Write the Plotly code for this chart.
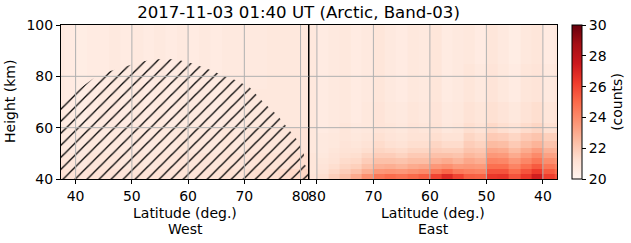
import numpy as np
import plotly.graph_objects as go
import plotly.colors as pc

title_text = "2017-11-03 01:40 UT (Arctic, Band-03)"
lat_ticks = [40, 50, 60, 70, 80]
height_ticks = [40, 60, 80, 100]
cbar_ticks = [20, 22, 24, 26, 28, 30]

# column edges (latitude, deg) for both halves, increasing
lat_edges = list(range(36, 84, 2))  # 36..82 -> 23 columns (centres 37..81)
west_height_edges = [40, 44, 50, 60, 75, 100]
east_height_edges = [40, 42, 44, 46, 48, 50, 52, 55, 58, 62, 70, 85, 100]

# West half: one list per latitude column (37..81), values bottom -> top
west_counts = [
    [21.2, 21.0, 20.8, 20.7, 20.7],
    [21.1, 20.9, 20.7, 20.6, 20.6],
    [21.0, 20.8, 20.7, 20.5, 20.5],
    [21.1, 20.9, 20.8, 20.6, 20.6],
    [21.0, 20.9, 20.7, 20.7, 20.6],
    [21.1, 20.9, 20.8, 20.7, 20.7],
    [21.0, 20.8, 20.7, 20.6, 20.6],
    [21.1, 20.9, 20.8, 20.7, 20.7],
    [21.0, 20.8, 20.7, 20.6, 20.6],
    [21.1, 20.9, 20.8, 20.7, 20.7],
    [21.0, 20.9, 20.8, 20.6, 20.6],
    [21.1, 21.0, 20.9, 20.7, 20.7],
    [21.0, 20.9, 20.8, 20.7, 20.6],
    [21.1, 21.0, 20.8, 20.7, 20.7],
    [21.1, 20.9, 20.8, 20.6, 20.6],
    [21.2, 21.0, 20.9, 20.7, 20.7],
    [21.1, 21.0, 20.8, 20.7, 20.7],
    [21.2, 21.0, 20.9, 20.8, 20.7],
    [21.3, 21.1, 20.9, 20.8, 20.7],
    [21.3, 21.1, 20.9, 20.8, 20.8],
    [21.4, 21.1, 20.9, 20.8, 20.8],
    [21.5, 21.2, 21.0, 20.8, 20.8],
    [21.6, 21.3, 21.0, 20.8, 20.8],
]

# East half: one list per latitude column (37..81), values bottom -> top
east_counts = [
    [25.6, 24.9, 24.3, 23.7, 23.2, 22.7, 22.3, 21.8, 21.3, 21.1, 20.9, 20.8],  # 37
    [26.2, 25.4, 24.6, 23.9, 23.3, 22.8, 22.2, 21.8, 21.2, 20.9, 20.7, 20.6],  # 39
    [27.3, 26.3, 25.4, 24.6, 24.0, 23.4, 22.7, 22.2, 21.6, 21.3, 21.0, 20.9],  # 41
    [26.4, 25.6, 24.8, 24.1, 23.5, 23.0, 22.4, 22.0, 21.4, 21.1, 20.9, 20.8],  # 43
    [25.6, 24.9, 24.2, 23.6, 23.0, 22.5, 22.0, 21.6, 21.1, 20.8, 20.6, 20.5],  # 45
    [26.5, 25.6, 24.8, 24.1, 23.5, 23.0, 22.4, 21.9, 21.3, 21.0, 20.8, 20.7],  # 47
    [26.4, 25.6, 24.8, 24.2, 23.6, 23.1, 22.5, 22.0, 21.5, 21.2, 21.0, 20.9],  # 49
    [25.2, 24.2, 23.5, 22.9, 22.4, 22.1, 21.7, 21.4, 21.1, 20.9, 20.7, 20.6],  # 51
    [25.3, 24.3, 23.6, 23.1, 22.6, 22.2, 21.9, 21.6, 21.3, 21.1, 20.9, 20.8],  # 53
    [26.0, 24.5, 23.5, 22.7, 22.2, 21.8, 21.4, 21.1, 20.9, 20.8, 20.7, 20.7],  # 55
    [26.8, 25.1, 23.8, 23.0, 22.3, 21.8, 21.4, 21.1, 20.8, 20.7, 20.6, 20.6],  # 57
    [26.0, 24.6, 23.6, 22.8, 22.3, 21.9, 21.6, 21.3, 21.1, 21.0, 20.9, 20.9],  # 59
    [25.3, 24.0, 23.1, 22.4, 22.0, 21.6, 21.3, 21.1, 20.9, 20.8, 20.7, 20.7],  # 61
    [25.0, 23.8, 23.0, 22.4, 22.0, 21.6, 21.3, 21.1, 21.0, 20.9, 20.8, 20.8],  # 63
    [24.7, 23.6, 22.7, 22.2, 21.7, 21.4, 21.1, 20.9, 20.8, 20.7, 20.6, 20.6],  # 65
    [24.9, 23.7, 22.9, 22.3, 21.9, 21.5, 21.2, 21.0, 20.9, 20.8, 20.7, 20.7],  # 67
    [24.6, 23.6, 22.8, 22.3, 21.9, 21.6, 21.4, 21.2, 21.0, 21.0, 20.9, 20.9],  # 69
    [23.8, 22.9, 22.3, 21.9, 21.6, 21.3, 21.1, 20.9, 20.8, 20.8, 20.7, 20.7],  # 71
    [23.0, 22.3, 21.8, 21.5, 21.3, 21.1, 20.9, 20.8, 20.7, 20.6, 20.6, 20.6],  # 73
    [22.3, 21.9, 21.6, 21.4, 21.2, 21.1, 21.0, 20.9, 20.9, 20.8, 20.8, 20.8],  # 75
    [21.8, 21.5, 21.3, 21.1, 21.0, 20.9, 20.8, 20.8, 20.7, 20.7, 20.7, 20.7],  # 77
    [21.3, 21.1, 21.0, 20.9, 20.8, 20.7, 20.7, 20.7, 20.6, 20.6, 20.6, 20.6],  # 79
    [21.0, 20.9, 20.9, 20.9, 20.9, 20.8, 20.8, 20.8, 20.8, 20.8, 20.8, 20.8],  # 81
]

# Outline of the hatched region on the West side
hatch_lat = [37.4, 37.4, 38.5, 40.8, 43.0, 45.3, 48.6, 51.5, 54.0, 57.8, 60.8,
             64.0, 66.5, 68.4, 70.9, 73.5, 75.8, 77.6, 79.7, 80.6, 80.6, 81.5, 81.5]
hatch_height = [40.0, 69.5, 71.5, 75.5, 79.0, 81.5, 83.6, 85.6, 86.7, 86.7, 85.0,
                82.5, 80.0, 78.6, 75.8, 69.6, 65.0, 60.3, 54.4, 50.0, 46.0, 43.5, 40.0]

FONT = "DejaVu Sans"
reds = pc.sequential.Reds

fig = go.Figure()
fig.add_trace(go.Heatmap(x=lat_edges, y=west_height_edges, z=np.array(west_counts).T,
                         coloraxis="coloraxis", xaxis="x", yaxis="y", hoverinfo="skip"))
fig.add_trace(go.Heatmap(x=lat_edges, y=east_height_edges, z=np.array(east_counts).T,
                         coloraxis="coloraxis", xaxis="x2", yaxis="y2", hoverinfo="skip"))
fig.add_trace(go.Scatter(x=hatch_lat, y=hatch_height, mode="lines", fill="toself",
                         fillcolor="rgba(0,0,0,0)", line=dict(width=0),
                         fillpattern=dict(shape="/", size=8.5, solidity=0.15, fgopacity=1,
                                          fgcolor="black", bgcolor="rgba(0,0,0,0)"),
                         xaxis="x", yaxis="y", showlegend=False, hoverinfo="skip"))

axis_common = dict(showline=True, linecolor="black", linewidth=1, mirror=True,
                   showgrid=False, zeroline=False, ticks="outside", ticklen=4,
                   tickcolor="black", tickwidth=1, tickfont=dict(size=14, color="black"))

shapes = []
grid = dict(type="line", layer="above", line=dict(color="#b0b0b0", width=1))
for lt in lat_ticks:
    shapes.append(dict(grid, xref="x", yref="y domain", x0=lt, x1=lt, y0=0, y1=1))
    shapes.append(dict(grid, xref="x2", yref="y domain", x0=lt, x1=lt, y0=0, y1=1))
for h in height_ticks[1:-1]:
    shapes.append(dict(grid, xref="paper", yref="y", x0=0, x1=1, y0=h, y1=h))
shapes.append(dict(type="line", layer="above", xref="paper", yref="paper",
                   x0=0.5, x1=0.5, y0=0, y1=1, line=dict(color="black", width=1)))

annotations = [
    dict(text="Latitude (deg.)", x=0.25, y=(179 - 212.5) / 154, xref="paper", yref="paper",
         showarrow=False, xanchor="center", yanchor="middle", font=dict(size=14)),
    dict(text="West", x=0.25, y=(179 - 229) / 154, xref="paper", yref="paper",
         showarrow=False, xanchor="center", yanchor="middle", font=dict(size=14)),
    dict(text="Latitude (deg.)", x=0.75, y=(179 - 212.5) / 154, xref="paper", yref="paper",
         showarrow=False, xanchor="center", yanchor="middle", font=dict(size=14)),
    dict(text="East", x=0.75, y=(179 - 229) / 154, xref="paper", yref="paper",
         showarrow=False, xanchor="center", yanchor="middle", font=dict(size=14)),
    dict(text="Height (km)", x=(10 - 61) / 496, y=0.5, xref="paper", yref="paper",
         showarrow=False, xanchor="center", yanchor="middle", textangle=-90, font=dict(size=14)),
]

fig.update_layout(
    width=631, height=243,
    margin=dict(l=61, r=74, t=25, b=64, autoexpand=False),
    paper_bgcolor="white", plot_bgcolor="white",
    font=dict(family=FONT, size=14, color="black"),
    title=dict(text=title_text, x=298.5 / 631, xref="container", xanchor="center",
               y=1 - 12 / 243, yref="container", yanchor="middle",
               font=dict(size=16.6, family=FONT)),
    xaxis=dict(axis_common, domain=[0, 0.5], range=[37.4, 81.5], tickvals=lat_ticks, anchor="y"),
    xaxis2=dict(axis_common, domain=[0.5, 1], range=[81.4, 37.5], tickvals=lat_ticks, anchor="y2"),
    yaxis=dict(axis_common, domain=[0, 1], range=[40, 100], tickvals=height_ticks, anchor="x"),
    yaxis2=dict(axis_common, domain=[0, 1], range=[40, 100], tickvals=height_ticks, anchor="x2",
                showticklabels=False, ticks="", matches="y"),
    coloraxis=dict(colorscale=reds, cmin=20, cmax=30,
                   colorbar=dict(x=(572 - 61) / 496, xanchor="left", xpad=0, ypad=0,
                                 y=0.5, yanchor="middle", len=1, lenmode="fraction",
                                 thickness=10, thicknessmode="pixels",
                                 outlinecolor="black", outlinewidth=1,
                                 ticks="outside", ticklen=4, tickcolor="black",
                                 tickvals=cbar_ticks, tickfont=dict(size=14),
                                 title=dict(text="(counts)", side="right", font=dict(size=14)))),
    shapes=shapes,
    annotations=annotations,
    showlegend=False,
)

fig.write_html("out.html")
